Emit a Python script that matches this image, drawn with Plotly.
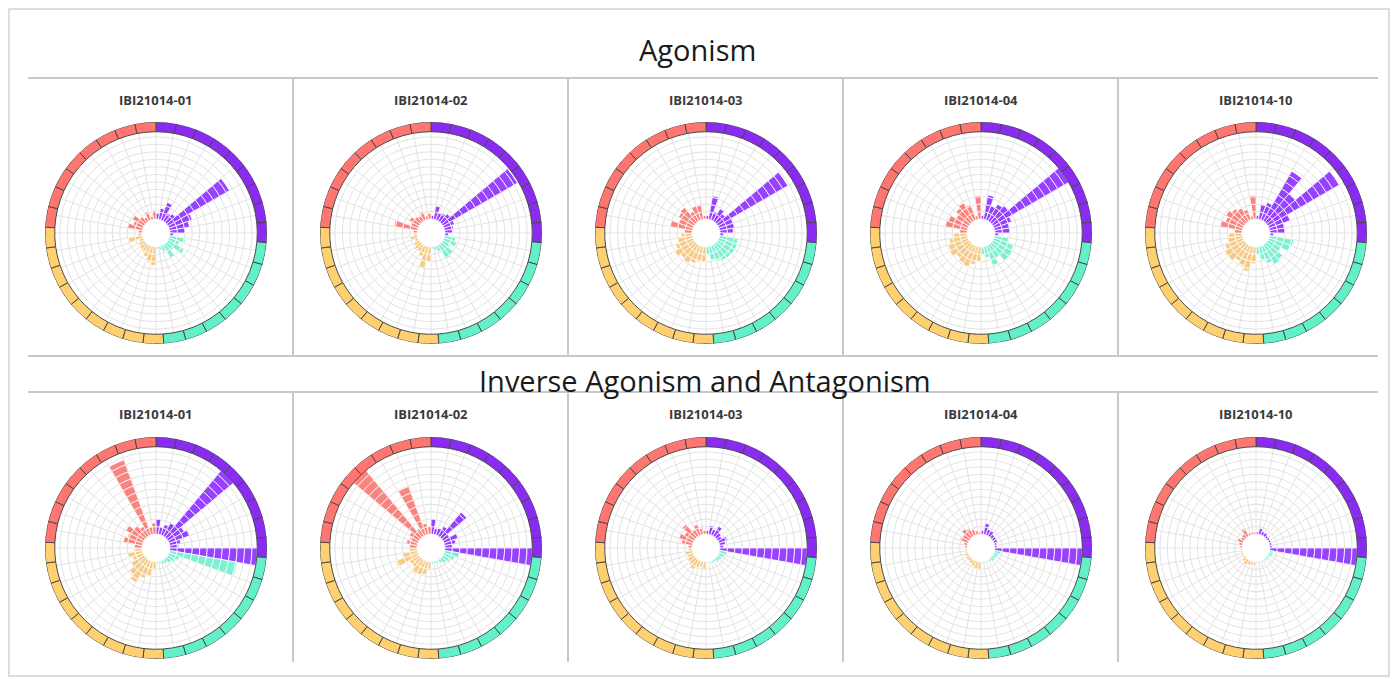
import plotly.graph_objects as go

W, H = 1392, 679

# ---------------- data ----------------
samples = ["IBI21014-01", "IBI21014-02", "IBI21014-03", "IBI21014-04", "IBI21014-10"]
row_titles = ["Agonism", "Inverse Agonism and Antagonism"]

# 36 angular sectors of 10 degrees (clockwise from top); family of each sector
family_names = ["purple", "teal", "yellow", "red"]
family_sector_counts = [10, 8, 9, 9]

# outer family ring (degrees) and number of ring segments per family
ring_start = [0, 95, 176, 273]
ring_end = [95, 176, 273, 360]
ring_counts = [9, 7, 9, 8]

# values per sector (sector 0 = 0-10 deg ... sector 35 = 350-360 deg)
#               purple (10)                                         teal (8)                                   yellow (9)                                      red (9)
agonism_01 = [0.8, 1.5, 2.5, 1.2, 1.5, 9.5, 3.3, 2.7, 2.0, 0.5,  2.2, 1.5, 2.5, 1.2, 2.0, 0.8, 0.5, 0.3,  2.5, 2.2, 1.6, 1.2, 1.0, 0.8, 0.6, 1.9, 0.6,  0.5, 2.0, 1.4, 1.8, 1.0, 0.6, 1.2, 0.4, 1.2]
agonism_02 = [0.5, 1.8, 1.0, 1.2, 1.5, 11.5, 1.5, 1.2, 1.0, 0.5, 1.5, 1.8, 1.2, 2.0, 2.2, 0.8, 0.5, 0.3,  2.0, 2.9, 1.5, 1.0, 1.2, 0.8, 0.5, 1.0, 0.5,  0.5, 3.2, 1.0, 1.5, 1.0, 0.8, 1.2, 0.5, 0.8]
agonism_03 = [0.5, 3.2, 1.2, 1.9, 1.5, 10.8, 2.1, 2.0, 1.8, 0.5, 2.5, 2.6, 2.6, 2.5, 2.4, 2.2, 1.8, 1.0,  2.0, 2.2, 2.5, 2.8, 2.6, 3.1, 2.5, 2.0, 1.5,  1.0, 3.0, 2.0, 2.4, 2.6, 1.5, 2.0, 1.9, 0.5]
agonism_04 = [0.5, 3.3, 2.0, 2.6, 2.9, 11.7, 2.5, 2.1, 2.0, 0.5, 1.9, 2.8, 3.0, 3.1, 2.0, 2.8, 1.5, 1.0,  2.1, 2.5, 3.1, 2.8, 2.5, 3.1, 2.8, 2.5, 1.8,  1.0, 3.0, 2.8, 2.1, 2.5, 2.8, 2.2, 0.5, 3.2]
agonism_10 = [0.5, 2.1, 2.5, 7.7, 5.0, 11.0, 3.0, 2.0, 2.0, 0.5, 3.3, 3.0, 2.0, 2.8, 3.0, 2.5, 1.8, 1.0,  2.3, 3.4, 2.8, 2.5, 3.0, 3.1, 2.6, 2.0, 1.8,  1.0, 3.0, 2.5, 2.8, 2.4, 2.0, 1.5, 0.5, 3.2]

inverse_01 = [2.0, 1.0, 1.5, 2.0, 11.7, 2.5, 2.9, 1.5, 1.2, 11.7, 9.2, 1.5, 1.2, 0.8, 0.5, 0.5, 0.3, 0.3,  1.0, 2.1, 2.5, 3.5, 2.8, 2.0, 1.5, 2.0, 1.2,  1.0, 2.6, 2.2, 2.8, 2.0, 1.5, 10.7, 1.0, 1.5]
inverse_02 = [2.0, 0.8, 1.0, 1.5, 4.4, 1.0, 2.1, 1.5, 1.0, 11.7,  2.0, 1.5, 1.2, 0.8, 0.5, 0.3, 0.3, 0.3,  1.2, 1.8, 2.0, 2.2, 1.5, 1.5, 3.2, 2.0, 1.0,  1.0, 1.5, 1.2, 1.5, 11.7, 1.2, 6.9, 1.5, 1.0]
inverse_03 = [0.5, 1.2, 0.8, 1.5, 0.8, 0.6, 1.2, 0.8, 0.5, 11.7,  1.0, 0.8, 0.6, 0.5, 0.3, 0.3, 0.2, 0.2,  1.0, 0.8, 1.2, 1.5, 1.2, 1.0, 0.8, 1.0, 0.5,  0.5, 1.5, 2.0, 1.5, 2.3, 1.0, 1.5, 0.8, 0.5]
inverse_04 = [0.5, 1.5, 0.8, 0.8, 0.5, 0.5, 0.5, 0.3, 0.3, 11.7,  0.8, 0.6, 0.5, 0.5, 0.3, 0.2, 0.2, 0.2,  1.0, 1.0, 0.8, 0.6, 0.5, 0.5, 0.5, 0.3, 0.3,  0.3, 0.5, 1.2, 1.0, 1.5, 1.2, 0.8, 0.5, 0.3]
inverse_10 = [0.3, 0.8, 0.5, 0.5, 0.3, 0.3, 0.3, 0.3, 0.3, 11.7,  0.5, 0.5, 0.3, 0.3, 0.2, 0.2, 0.2, 0.2,  0.5, 0.5, 0.6, 0.8, 0.5, 0.3, 0.3, 0.3, 0.2,  0.3, 0.5, 0.8, 0.5, 0.6, 1.2, 0.3, 0.3, 0.3]

rows = [[agonism_01, agonism_02, agonism_03, agonism_04, agonism_10],
        [inverse_01, inverse_02, inverse_03, inverse_04, inverse_10]]

# ---------------- styling ----------------
ring_colors = ["#8A2BF2", "#62F0C8", "#FFD06F", "#FF7670"]
bar_colors = ["#9642FF", "#80F0D2", "#F6CB88", "#F8857F"]
SECTOR = 10
RING_BASE, RING_H = 11.7, 1.3
R_MAX = 13
HOLE = 0.125
centers_x = [156, 431, 706, 981, 1256]
centers_y = [233, 548]
RAD = 111

sector_family = []
for f, n in enumerate(family_sector_counts):
    sector_family += [f] * n


def bar_segments(values):
    th, base, rr, col = [], [], [], []
    for i, v in enumerate(values):
        k = 0.0
        while k < v - 1e-9:
            h = min(1.0, v - k)
            th.append(i * SECTOR + SECTOR / 2)
            base.append(k)
            rr.append(h)
            col.append(bar_colors[sector_family[i]])
            k += 1.0
    return th, base, rr, col


def ring_segments():
    th, wd, col = [], [], []
    for f in range(4):
        w = (ring_end[f] - ring_start[f]) / ring_counts[f]
        for j in range(ring_counts[f]):
            th.append(ring_start[f] + w * (j + 0.5))
            wd.append(w)
            col.append(ring_colors[f])
    return th, wd, col


fig = go.Figure()
layout_extra = {}
annotations = []
idx = 0
rth, rwd, rcol = ring_segments()
for ri, row in enumerate(rows):
    for ci, vals in enumerate(row):
        idx += 1
        pname = "polar" if idx == 1 else f"polar{idx}"
        th, base, rr, col = bar_segments(vals)
        fig.add_trace(go.Barpolar(
            theta=th, r=rr, base=base, width=[SECTOR] * len(th),
            marker=dict(color=col, line=dict(color="white", width=0.8)),
            subplot=pname, showlegend=False, hoverinfo="skip"))
        fig.add_trace(go.Barpolar(
            theta=rth, r=[RING_H] * len(rth), base=[RING_BASE] * len(rth), width=rwd,
            marker=dict(color=rcol, line=dict(color="#4a4a4a", width=1)),
            subplot=pname, showlegend=False, hoverinfo="skip"))
        cx, cy = centers_x[ci], centers_y[ri]
        layout_extra[pname] = dict(
            domain=dict(x=[(cx - RAD) / W, (cx + RAD) / W],
                        y=[1 - (cy + RAD) / H, 1 - (cy - RAD) / H]),
            hole=HOLE, bgcolor="white", barmode="overlay",
            angularaxis=dict(rotation=90, direction="clockwise", tickmode="linear",
                             tick0=0, dtick=SECTOR, showticklabels=False, ticks="",
                             showline=False, gridcolor="#e3e3e3", gridwidth=1),
            radialaxis=dict(range=[0, R_MAX], tickvals=list(range(1, 12)),
                            showticklabels=False, ticks="", showline=False,
                            gridcolor="#e3e3e3", gridwidth=1),
        )
        annotations.append(dict(
            x=cx / W, y=1 - (100 if ri == 0 else 414) / H, xref="paper", yref="paper",
            text=f"<b>{samples[ci]}</b>", showarrow=False,
            font=dict(family="Open Sans", size=13, color="#3a3a3a"),
            xanchor="center", yanchor="middle"))

annotations.append(dict(x=697 / W, y=1 - 50 / H, xref="paper", yref="paper",
                        text=row_titles[0], showarrow=False,
                        font=dict(family="Open Sans", size=29, color="#1a1a1a"),
                        xanchor="center", yanchor="middle"))
annotations.append(dict(x=705 / W, y=1 - 380 / H, xref="paper", yref="paper",
                        text=row_titles[1], showarrow=False,
                        font=dict(family="Open Sans", size=29, color="#1a1a1a"),
                        xanchor="center", yanchor="middle"))


def line(x0, y0, x1, y1, color="#c8c8c8", width=2):
    return dict(type="line", xref="paper", yref="paper",
                x0=x0 / W, y0=1 - y0 / H, x1=x1 / W, y1=1 - y1 / H,
                line=dict(color=color, width=width))


shapes = [dict(type="rect", xref="paper", yref="paper",
               x0=9 / W, y0=1 - 676 / H, x1=1389 / W, y1=1 - 9 / H,
               line=dict(color="#d2d2d2", width=1.5))]
shapes.append(line(28, 78, 1378, 78))
shapes.append(line(28, 356, 1378, 356))
shapes.append(line(28, 392, 1378, 392))
for xv in [293, 568, 843, 1118]:
    shapes.append(line(xv, 79, xv, 355))
    shapes.append(line(xv, 393, xv, 662))

fig.update_layout(
    width=W, height=H, margin=dict(l=0, r=0, t=0, b=0),
    paper_bgcolor="white", plot_bgcolor="white",
    annotations=annotations, shapes=shapes, showlegend=False,
    **layout_extra)

fig.write_html("out.html", config={"displayModeBar": False},
               post_script="document.body.style.margin='0';document.body.style.overflow='hidden';")
